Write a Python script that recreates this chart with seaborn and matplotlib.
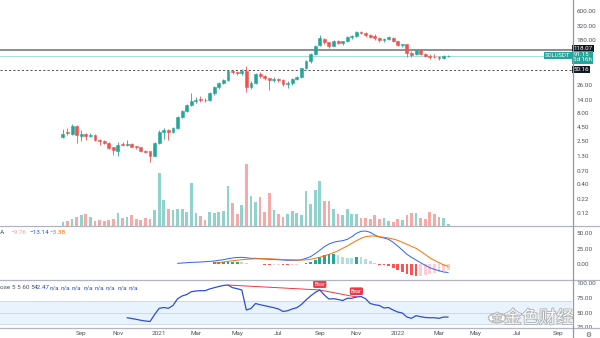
import numpy as np
import pandas as pd
import matplotlib
matplotlib.use("Agg")
import matplotlib.pyplot as plt
import matplotlib.dates as mdates
import matplotlib.patheffects as pe
from matplotlib.lines import Line2D
from matplotlib.patches import Circle
from matplotlib.ticker import NullLocator, FixedLocator, FixedFormatter
from matplotlib.transforms import blended_transform_factory
import seaborn as sns

sns.set_style("white")
plt.rcParams['font.family'] = ['Roboto', 'Noto Sans CJK SC', 'DejaVu Sans']

# ---------------- data (SOL/USDT weekly) ----------------
first_week = "2020-08-10"
opens = [2.95, 3.6, 3.4, 4.6, 3.1, 3.3, 3.05, 3.2, 2.6, 2.5,
         2.28, 1.9, 1.66, 2.18, 2.1, 2.18, 1.98, 1.9, 1.65, 1.62,
         1.33, 2.25, 3.7, 3.95, 3.7, 4.35, 6.95, 8.95, 11.4, 13.3,
         14.5, 14.3, 14.0, 18.7, 24.0, 28.4, 32.7, 47.5, 46.5, 44.5,
         47.5, 24.6, 29.2, 42.0, 38.5, 35.0, 32.7, 34.3, 32.7, 27.3,
         28.6, 34.6, 37.6, 53.6, 74.0, 96.6, 142.0, 188.0, 160.0, 140.0,
         172.0, 156.0, 166.0, 200.0, 212.0, 252.0, 242.0, 222.0, 207.0, 196.0,
         176.0, 185.0, 196.0, 170.0, 143.0, 150.0, 100.0, 96.0, 115.0, 96.0,
         90.0, 88.0, 86.0, 82.0, 89.0]
highs = [4.1, 4.3, 5.1, 4.9, 3.9, 3.5, 3.45, 3.35, 2.7, 2.6,
         2.35, 1.95, 2.35, 2.35, 2.6, 2.25, 2.05, 1.95, 1.72, 1.65,
         2.35, 3.9, 4.3, 4.2, 4.5, 7.3, 9.3, 12.0, 19.0, 16.0,
         16.4, 15.0, 19.5, 25.0, 29.5, 34.0, 49.0, 50.0, 48.0, 52.0,
         59.0, 31.0, 43.5, 45.0, 40.0, 36.0, 37.0, 36.0, 34.0, 31.0,
         36.0, 39.5, 55.0, 75.0, 100.0, 142.0, 222.0, 195.0, 165.0, 178.0,
         180.0, 170.0, 205.0, 222.0, 260.0, 260.0, 248.0, 230.0, 225.0, 200.0,
         195.0, 205.0, 204.0, 172.0, 152.0, 152.0, 110.0, 117.0, 119.0, 100.0,
         96.0, 97.0, 90.0, 92.0, 93.0]
lows = [2.8, 3.2, 3.2, 2.3, 2.5, 2.6, 2.9, 2.5, 2.1, 2.2,
        1.8, 1.4, 1.33, 2.0, 2.0, 1.9, 1.8, 1.55, 1.5, 1.05,
        1.3, 2.2, 2.7, 2.6, 3.5, 4.2, 6.6, 8.5, 10.8, 12.5,
        13.0, 13.0, 13.3, 17.5, 22.5, 27.5, 31.0, 42.0, 41.0, 40.0,
        20.0, 22.0, 28.0, 36.0, 33.0, 21.5, 30.0, 30.0, 25.0, 23.5,
        27.0, 33.0, 36.0, 51.0, 68.0, 92.0, 135.0, 150.0, 125.0, 135.0,
        150.0, 145.0, 160.0, 185.0, 200.0, 225.0, 200.0, 190.0, 180.0, 160.0,
        160.0, 175.0, 165.0, 135.0, 130.0, 85.0, 88.0, 92.0, 93.0, 85.0,
        80.0, 81.0, 77.0, 80.0, 88.0]
closes = [3.4, 3.5, 4.6, 3.2, 3.3, 3.05, 3.25, 2.6, 2.45, 2.3,
          1.85, 1.68, 2.15, 2.08, 2.2, 1.97, 1.9, 1.63, 1.58, 1.34,
          2.25, 3.7, 4.0, 3.7, 4.35, 6.95, 8.95, 11.4, 13.6, 14.0,
          14.0, 13.9, 18.7, 24.0, 28.4, 32.7, 47.5, 45.5, 44.5, 47.0,
          24.6, 29.2, 42.0, 39.2, 36.0, 32.7, 34.5, 32.7, 27.3, 29.2,
          34.1, 37.6, 53.6, 74.0, 96.6, 139.0, 190.0, 160.0, 140.0, 172.0,
          158.0, 166.0, 198.0, 212.0, 250.0, 242.0, 222.0, 200.0, 196.0, 174.0,
          188.0, 198.0, 170.0, 145.0, 150.0, 100.0, 95.0, 115.0, 96.0, 90.0,
          87.0, 86.0, 82.0, 89.0, 91.15]
volumes = [4.3, 5, 7, 9, 11, 12, 9.3, 4.7, 6, 4.7,
           6, 6.7, 12.7, 8, 8.7, 10.7, 6.7, 6, 7.7, 7.3,
           15.7, 52.7, 26, 16.7, 16, 16.7, 16.7, 14.3, 43, 12.7,
           10, 6, 13.7, 13.3, 14, 15, 40, 23.3, 11.7, 21.3,
           61.7, 30, 24, 29, 14, 33, 15.7, 12.3, 9.3, 11.7,
           15, 12.7, 10.7, 35, 22.3, 36, 45, 25, 25, 17.3,
           12.3, 11, 16.7, 12.3, 11.7, 7.7, 8.3, 7, 10.7, 7,
           8, 5, 4.3, 6.7, 5.7, 10.7, 13, 13, 8.3, 7.3,
           14, 11.7, 9, 8.3, 2.3]
# MACD(12,26,9): macd from week 26, signal from week 34
macd_line = [1.6, 2.1, 2.6, 3.2, 3.4, 3.7, 4.2, 4.8, 5.3, 6.5,
             7.4, 9.0, 10.2, 11.0, 11.3, 10.6, 9.7, 9.7, 9.0, 8.5,
             8.1, 7.7, 7.4, 6.9, 6.5, 6.5, 6.5, 7.4, 9.7, 12.3,
             17.1, 22.6, 28.4, 32.7, 35.5, 37.1, 38.1, 40.3, 44.5, 50.0,
             53.2, 53.7, 51.6, 47.3, 44.0, 42.4, 40.3, 35.5, 29.5, 23.1,
             16.1, 11.3, 6.9, 2.6, -1.6, -5.5, -8.1, -10.3, -12.4, -13.14]
signal_line = [2.1, 2.9, 3.7, 4.8, 5.8, 6.6, 7.4, 8.1, 8.5, 8.9,
               9.0, 9.0, 8.9, 8.5, 8.2, 7.7, 7.4, 7.2, 6.9, 6.9,
               7.2, 8.1, 9.7, 11.3, 13.4, 16.1, 18.7, 21.9, 25.8, 29.5,
               33.9, 38.1, 41.9, 44.5, 45.6, 45.6, 44.5, 43.5, 42.4, 40.8,
               38.7, 35.5, 32.3, 29.0, 25.8, 21.1, 15.9, 10.5, 6.4, 2.7,
               -0.9, -3.38]
# RSI from week 15
rsi_vals = [41.3, 40.0, 38.6, 36.9, 35.7, 34.8, 46.8, 57.5, 58.8, 57.5,
            62.3, 73.9, 78.6, 81.1, 85.9, 87.1, 87.7, 87.7, 90.6, 92.8,
            94.9, 96.6, 97.4, 92.8, 91.1, 88.9, 54.5, 57.1, 65.7, 63.6,
            61.9, 60.2, 58.5, 56.3, 52.0, 53.3, 56.3, 58.5, 64.0, 71.7,
            78.6, 84.6, 88.9, 80.3, 73.4, 73.9, 72.6, 70.8, 74.6, 74.6,
            76.8, 77.7, 73.9, 65.7, 63.6, 62.3, 58.0, 58.8, 54.5, 51.1,
            49.4, 42.5, 40.3, 44.8, 43.1, 41.7, 41.3, 41.3, 40.3, 42.5, 42.47]
price_ticks = [600, 320, 180, 26, 14, 8, 4.5, 2.5, 1.3, 0.7, 0.4, 0.22, 0.12]
macd_ticks = [0, 25, 50]
rsi_ticks = [25, 50, 75, 100]
time_tick_dates = ["2020-09-07", "2020-11-02", "2021-01-04", "2021-03-01", "2021-05-03",
                   "2021-07-05", "2021-09-06", "2021-11-01", "2022-01-03", "2022-03-07",
                   "2022-05-02", "2022-07-04", "2022-09-05"]
time_tick_labels = ["Sep", "Nov", "2021", "Mar", "May", "Jul", "Sep", "Nov", "2022",
                    "Mar", "May", "Jul", "Sep"]
hline_solid = 118.07
hline_dashed = 50.16
last_price = 91.15
countdown = "5d 16h"
symbol = "SOLUSDT"
macd_legend = ["A", "\u22129.76", "\u221213.14", "\u22123.38"]
rsi_legend_params = "ose 5 5 60 5"
rsi_legend_value = "42.47"
# bearish divergence pivots (week numbers, 1-based)
bear_pivots = [37, 57, 65]

# ---------------- styling ----------------
UP, DN = "#26a69a", "#ef5350"
VUP, VDN = "#92d2cc", "#f7a9a7"
AXC = "#50535e"
SEP = "#b2b5be"

dates = pd.date_range(first_week, periods=len(closes), freq="7D")
o = np.array(opens); h = np.array(highs); l = np.array(lows); c = np.array(closes)
up = c >= o

W, H = 600, 338
fig = plt.figure(figsize=(6, 3.38), dpi=100)
fig.patch.set_facecolor("white")


def rect(x0, y0, x1, y1):
    return [x0 / W, 1 - y1 / H, (x1 - x0) / W, (y1 - y0) / H]


xlim = (mdates.date2num(pd.Timestamp("2020-05-06")), mdates.date2num(pd.Timestamp("2022-09-26")))

ax_vol = fig.add_axes(rect(0, 0, 572, 226))
ax = fig.add_axes(rect(0, 0, 572, 226), sharex=ax_vol)
ax_macd = fig.add_axes(rect(0, 226, 572, 280), sharex=ax_vol)
ax_rsi = fig.add_axes(rect(0, 280, 572, 328), sharex=ax_vol)
ax.patch.set_alpha(0)
for a in (ax_vol, ax, ax_macd, ax_rsi):
    for s in a.spines.values():
        s.set_visible(False)
    a.tick_params(axis="x", which="both", length=0, labelbottom=False)
    a.grid(False)
ax_vol.set_xlim(*xlim)

# volume
ax_vol.bar(dates, volumes, width=4.2, color=[VUP if u else VDN for u in up], linewidth=0)
ax_vol.set_ylim(0, max(volumes) * 3.66)
ax_vol.set_yticks([])

# candles
ax.set_yscale("log")
ax.set_ylim(0.0692, 954)
ccol = [UP if u else DN for u in up]
ax.vlines(dates, l, h, colors=ccol, linewidth=0.6, zorder=2)
ax.bar(dates, np.abs(c - o), bottom=np.minimum(o, c), width=4.4, color=ccol,
       edgecolor=ccol, linewidth=0.4, zorder=3)
ax.axhline(hline_solid, color="#787b86", lw=1.2, zorder=1)
ax.axhline(last_price, color="#a8ddd7", lw=0.7, zorder=1)
ax.axhline(hline_dashed, color="#50535e", lw=0.7, ls=(0, (2.2, 2.2)), zorder=1)

ax.yaxis.tick_right()
ax.yaxis.set_minor_locator(NullLocator())
ax.yaxis.set_major_locator(FixedLocator(price_ticks))
ax.yaxis.set_major_formatter(FixedFormatter([f"{t:.2f}" for t in price_ticks]))
ax.tick_params(axis="y", length=0, labelsize=4.6, colors=AXC, pad=3.5)

trans = blended_transform_factory(ax.transAxes, ax.transData)
ax.annotate(f"{hline_solid:.2f}", xy=(1.0025, hline_solid), xycoords=trans,
            xytext=(0, 1.0), textcoords="offset points", ha="left", va="center",
            fontsize=4.5, color="white", bbox=dict(boxstyle="square,pad=0.18", fc="#131722", ec="none"),
            zorder=10, annotation_clip=False)
ax.annotate(f"{last_price:.2f}\n{countdown}", xy=(1.0025, last_price), xycoords=trans,
            xytext=(0, 2.6), textcoords="offset points", ha="left", va="top",
            fontsize=4.5, color="white", linespacing=1.1,
            bbox=dict(boxstyle="square,pad=0.18", fc=UP, ec="none"), zorder=11, annotation_clip=False)
ax.annotate(f"{hline_dashed:.2f}", xy=(1.0025, hline_dashed), xycoords=trans,
            xytext=(0, 0.3), textcoords="offset points", ha="left", va="center",
            fontsize=4.5, color="white", bbox=dict(boxstyle="square,pad=0.18", fc="#131722", ec="none"),
            zorder=10, annotation_clip=False)
ax.text(0.9975, last_price, symbol, transform=trans, ha="right", va="center",
        fontsize=4.2, color="white", bbox=dict(boxstyle="square,pad=0.22", fc=UP, ec="none"), zorder=10)

# MACD
hist = np.array(macd_line[8:]) - np.array(signal_line)
hcol = []
for i, v in enumerate(hist):
    prev = hist[i - 1] if i > 0 else 0
    if v >= 0:
        hcol.append("#26a69a" if v >= prev else "#b2dfdb")
    else:
        hcol.append("#ff5252" if v <= prev else "#ffcdd2")
ax_macd.bar(dates[33:], hist, width=4.2, color=hcol, linewidth=0)
sns.lineplot(x=dates[25:], y=macd_line, ax=ax_macd, color="#2962ff", lw=0.7)
sns.lineplot(x=dates[33:], y=signal_line, ax=ax_macd, color="#ff6d00", lw=0.7)
ax_macd.set_ylim(-25.3, 61.8)
ax_macd.yaxis.tick_right()
ax_macd.set_yticks(macd_ticks)
ax_macd.set_yticklabels([f"{t:.2f}" for t in macd_ticks])
ax_macd.tick_params(axis="y", length=0, labelsize=4.6, colors=AXC, pad=3.5)
ax_macd.set_xlabel(""); ax_macd.set_ylabel("")

# RSI
ax_rsi.axhspan(30, 70, color="#e9f3fd", lw=0, zorder=0)
for lv in (70, 50, 30):
    ax_rsi.axhline(lv, color="#c5d6e8", lw=0.6, zorder=1)
sns.lineplot(x=dates[14:], y=rsi_vals, ax=ax_rsi, color="#2e4fd0", lw=0.9, zorder=3)
pv_x = [dates[p - 1] for p in bear_pivots]
pv_y = [rsi_vals[p - 15] for p in bear_pivots]
ax_rsi.plot(pv_x, pv_y, color="#f23645", lw=0.7, zorder=2)
for px, py in zip(pv_x[1:], pv_y[1:]):
    ax_rsi.annotate("Bear", xy=(px, py), xytext=(0, 4.2), textcoords="offset points",
                    ha="center", va="center", fontsize=3.8, color="white",
                    bbox=dict(boxstyle="round,pad=0.25,rounding_size=0.3", fc="#f23645", ec="none"),
                    zorder=5, annotation_clip=False)
ax_rsi.set_ylim(23.7, 106)
ax_rsi.yaxis.tick_right()
ax_rsi.set_yticks(rsi_ticks)
ax_rsi.set_yticklabels([f"{t:.2f}" for t in rsi_ticks])
ax_rsi.tick_params(axis="y", length=0, labelsize=4.6, colors=AXC, pad=3.5)
ax_rsi.set_xlabel(""); ax_rsi.set_ylabel("")
ax_rsi.set_xticks([mdates.date2num(pd.Timestamp(d)) for d in time_tick_dates])
ax_rsi.set_xticklabels(time_tick_labels)
ax_rsi.tick_params(axis="x", labelbottom=True, labelsize=4.6, colors=AXC, pad=2.2)
ax_vol.set_xlim(*xlim)


# separators
def fline(x0, y0, x1, y1, **kw):
    fig.add_artist(Line2D([x0 / W, x1 / W], [1 - y0 / H, 1 - y1 / H], transform=fig.transFigure, **kw))


for yy in (226, 280, 328):
    fline(0, yy, 600, yy, color=SEP, lw=0.9)
fline(572.5, 0, 572.5, 338, color="#9598a1", lw=0.9)

# legends
def ftext(x, y, s, **kw):
    fig.text(x / W, 1 - y / H, s, va="center", ha="left", fontsize=4.6, **kw)


ftext(0, 232, macd_legend[0], color=AXC)
ftext(10, 232, macd_legend[1], color="#f7a1a0")
ftext(29, 232, macd_legend[2], color="#2962ff")
ftext(49, 232, macd_legend[3], color="#ff6d00")
ftext(0, 287.5, rsi_legend_params, color=AXC)
ftext(34, 287.5, rsi_legend_value, color="#2e4fd0")
for k in range(8):
    ftext(49 + k * 11.4, 287.5, "n/a", color="#2e4fd0")

# watermark (logo + text) + settings icon
fig.add_artist(Circle((497 / W, 1 - 318 / H), 8.5 / W, transform=fig.transFigure,
                      fc="white", ec="#b5b5b5", lw=1.0, alpha=0.9))
fig.text(497 / W, 1 - 318 / H, "金", ha="center", va="center", fontsize=7.5,
         color="white", family=["Noto Sans CJK SC", "DejaVu Sans"],
         path_effects=[pe.withStroke(linewidth=0.9, foreground="#a9a9a9")])
fig.text(539 / W, 1 - 318 / H, "金色财经", ha="center", va="center", fontsize=12.5,
         color="white", alpha=0.9, family=["Noto Sans CJK SC", "DejaVu Sans"],
         path_effects=[pe.withStroke(linewidth=1.2, foreground="#a9a9a9")])
fig.text(588 / W, 1 - 334.5 / H, "\u2699", ha="center", va="center", fontsize=4.8, color=AXC,
         family=["DejaVu Sans"])

fig.savefig("out.png", dpi=100, facecolor="white")
